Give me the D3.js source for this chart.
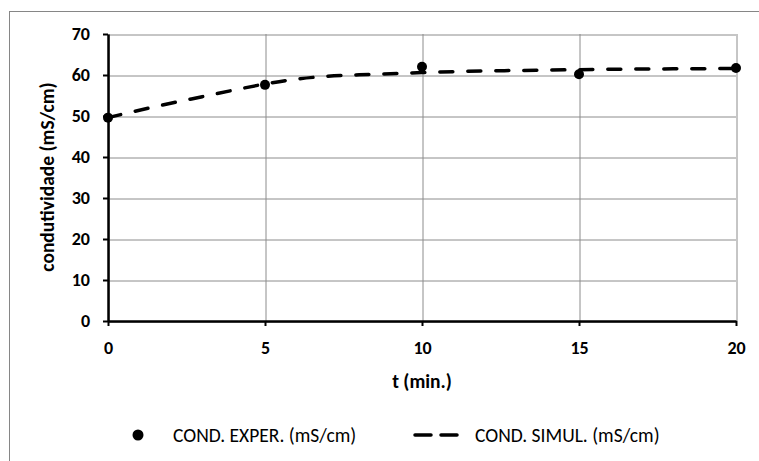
<!DOCTYPE html>
<html>
<head>
<meta charset="utf-8">
<script src="https://cdn.jsdelivr.net/npm/d3@7"></script>
<style>
  html, body { margin: 0; padding: 0; background: #fff; }
  svg { display: block; font-family: Carlito, Calibri, Lato, sans-serif; }
</style>
</head>
<body>
<div id="chart"></div>
<script>
"use strict";

// Experimental points (min, mS/cm)
const tExper = [0, 5, 10, 15, 20];
const condExper = [49.6, 57.6, 62.0, 60.2, 61.7];

// Simulated curve, one value per minute
const tSimul = [0, 1, 2, 3, 4, 5, 6, 7, 8, 9, 10, 11, 12, 13, 14, 15, 16, 17, 18, 19, 20];
const condSimul = [49.6, 51.4, 53.1, 54.7, 56.3, 57.8, 59.0, 59.7, 60.05, 60.3, 60.6,
  60.8, 61.0, 61.1, 61.2, 61.3, 61.4, 61.45, 61.5, 61.55, 61.6];

const xTicks = [0, 5, 10, 15, 20];
const yTicks = [0, 10, 20, 30, 40, 50, 60, 70];

const labels = {
  x: "t (min.)",
  y: "condutividade (mS/cm)",
  exper: "COND. EXPER. (mS/cm)",
  simul: "COND. SIMUL. (mS/cm)",
};

const w = 759;
const h = 461;
const plot = { left: 108, right: 736, top: 34, bottom: 321 };

const svg = d3.select("#chart").append("svg").attr("width", w).attr("height", h);

// chart area border (right/bottom fall outside the picture)
svg.append("rect")
  .attr("x", 9.5).attr("y", 11.5)
  .attr("width", 760).attr("height", 460)
  .attr("fill", "#fff").attr("stroke", "#868686").attr("stroke-width", 1);

const x = d3.scaleLinear().domain([0, 20]).range([plot.left, plot.right]);
const y = d3.scaleLinear().domain([0, 70]).range([plot.bottom, plot.top]);

// Gridlines
svg.append("g")
  .attr("transform", `translate(0, ${plot.bottom})`)
  .call(d3.axisBottom(x).tickValues(xTicks).tickSize(-(plot.bottom - plot.top)).tickFormat(""))
  .call((g) => g.select(".domain").remove())
  .call((g) => g.selectAll("line").attr("stroke", "#8c8c8c").attr("stroke-width", 1)
    .attr("transform", "translate(0.5,0)"));

svg.append("g")
  .attr("transform", `translate(${plot.left}, 0)`)
  .call(d3.axisLeft(y).tickValues(yTicks).tickSize(-(plot.right - plot.left)).tickFormat(""))
  .call((g) => g.select(".domain").remove())
  .call((g) => g.selectAll("line").attr("stroke", "#8c8c8c").attr("stroke-width", 1)
    .attr("transform", "translate(0,0.5)"));

// Axes
const xAxis = svg.append("g")
  .attr("transform", `translate(0, ${plot.bottom})`)
  .call(d3.axisBottom(x).tickValues(xTicks).tickSize(5).tickPadding(15).tickSizeOuter(0));

const yAxis = svg.append("g")
  .attr("transform", `translate(${plot.left}, 0)`)
  .call(d3.axisLeft(y).tickValues(yTicks).tickSize(5).tickPadding(13).tickSizeOuter(0));

[xAxis, yAxis].forEach((g) => {
  g.select(".domain").attr("stroke", "#000").attr("stroke-width", 2.5);
  g.selectAll(".tick line").attr("stroke", "#000").attr("stroke-width", 2);
  g.selectAll(".tick text")
    .attr("fill", "#000")
    .style("font-family", "Carlito, Calibri, Lato, sans-serif")
    .style("font-size", "18px")
    .style("font-weight", "bold");
});

// Axis titles
svg.append("text")
  .attr("x", (plot.left + plot.right) / 2)
  .attr("y", 388)
  .attr("text-anchor", "middle")
  .style("font-size", "19.5px")
  .style("font-weight", "bold")
  .text(labels.x);

svg.append("text")
  .attr("transform", `translate(54, 177) rotate(-90)`)
  .attr("text-anchor", "middle")
  .style("font-size", "19.5px")
  .style("font-weight", "bold")
  .text(labels.y);

// Simulated curve
const line = d3.line()
  .x((d, i) => x(tSimul[i]))
  .y((d) => y(d))
  .curve(d3.curveMonotoneX);

svg.append("path")
  .datum(condSimul)
  .attr("d", line)
  .attr("fill", "none")
  .attr("stroke", "#000")
  .attr("stroke-width", 3.5)
  .attr("stroke-linecap", "round")
  .attr("stroke-dasharray", "13,15");

// Experimental points
svg.append("g")
  .selectAll("circle")
  .data(condExper)
  .join("circle")
  .attr("cx", (d, i) => x(tExper[i]))
  .attr("cy", (d) => y(d))
  .attr("r", 5)
  .attr("fill", "#000");

// Legend
const legend = svg.append("g").attr("transform", "translate(0, 435)");

legend.append("circle").attr("cx", 138).attr("cy", 0).attr("r", 5.5).attr("fill", "#000");
legend.append("text")
  .attr("x", 173).attr("y", 7)
  .style("font-size", "19.5px")
  .text(labels.exper);

legend.append("line")
  .attr("x1", 415).attr("x2", 458).attr("y1", 0).attr("y2", 0)
  .attr("stroke", "#000").attr("stroke-width", 3.5)
  .attr("stroke-linecap", "round")
  .attr("stroke-dasharray", "16,10");
legend.append("text")
  .attr("x", 475).attr("y", 7)
  .style("font-size", "19.5px")
  .text(labels.simul);
</script>
</body>
</html>
